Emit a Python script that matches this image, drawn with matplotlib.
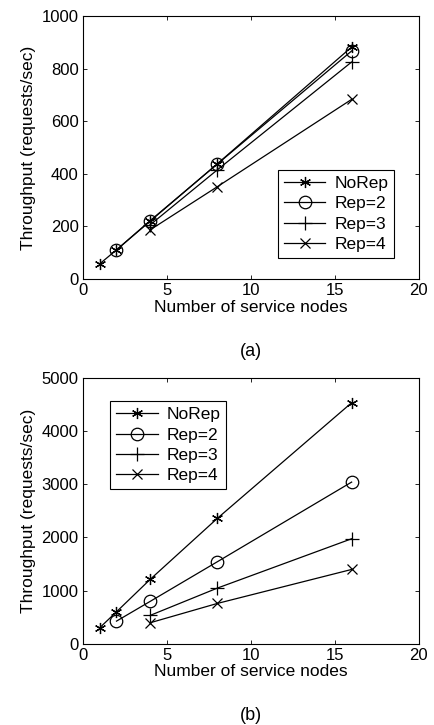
import numpy as np
import matplotlib.pyplot as plt

plt.rcParams['font.family'] = ['Liberation Sans', 'DejaVu Sans']
plt.rcParams['font.size'] = 12

# (a) throughput vs nodes
a_norep_x = [1, 2, 4, 8, 16]
a_norep_y = [58, 111, 220, 438, 882]
a_rep2_x = [2, 4, 8, 16]
a_rep2_y = [111, 222, 437, 867]
a_rep3_x = [4, 8, 16]
a_rep3_y = [206, 415, 825]
a_rep4_x = [4, 8, 16]
a_rep4_y = [187, 351, 683]

# (b)
b_norep_x = [1, 2, 4, 8, 16]
b_norep_y = [301, 601, 1209, 2356, 4530]
b_rep2_x = [2, 4, 8, 16]
b_rep2_y = [426, 796, 1541, 3039]
b_rep3_x = [4, 8, 16]
b_rep3_y = [533, 1046, 1974]
b_rep4_x = [4, 8, 16]
b_rep4_y = [395, 758, 1397]

labels = ['NoRep', 'Rep=2', 'Rep=3', 'Rep=4']
markers = [(6, 2, 0), 'o', '+', 'x']
msizes = [8, 9, 10, 6.5]

fig = plt.figure(figsize=(4.34, 7.25), dpi=100)
ax1 = fig.add_axes([0.191, 0.615, 0.774, 0.363])
ax2 = fig.add_axes([0.191, 0.112, 0.774, 0.367])

def draw(ax, series, ymax, legend_loc):
    for (x, y), lab, m, ms in zip(series, labels, markers, msizes):
        ax.plot(x, y, color='black', lw=0.9, marker=m, ms=ms, mfc='none',
                mec='black', mew=0.9, label=lab)
    ax.set_xlim(0, 20)
    ax.set_ylim(0, ymax)
    ax.set_xticks([0, 5, 10, 15, 20])
    ax.tick_params(direction='in', length=3, top=True, right=True, width=0.6, pad=3)
    for s in ax.spines.values():
        s.set_linewidth(0.8)
    ax.set_xlabel('Number of service nodes', labelpad=1, fontsize=12.5)
    ax.set_ylabel('Throughput (requests/sec)', labelpad=4, fontsize=12.5)
    leg = ax.legend(loc=legend_loc, frameon=True, fancybox=False, edgecolor='black',
                    framealpha=1, handlelength=2.4, borderpad=0.35, labelspacing=0.3,
                    handletextpad=0.5, fontsize=12.5)
    leg.get_frame().set_linewidth(0.8)

draw(ax1, [(a_norep_x, a_norep_y), (a_rep2_x, a_rep2_y),
           (a_rep3_x, a_rep3_y), (a_rep4_x, a_rep4_y)], 1000, (0.58, 0.08))
draw(ax2, [(b_norep_x, b_norep_y), (b_rep2_x, b_rep2_y),
           (b_rep3_x, b_rep3_y), (b_rep4_x, b_rep4_y)], 5000, (0.08, 0.58))

fig.text(0.578, 1 - 352 / 725, '(a)', ha='center', va='center', fontsize=13)
fig.text(0.578, 1 - 715 / 725, '(b)', ha='center', va='center', fontsize=13)

fig.savefig('out.png', dpi=100)
